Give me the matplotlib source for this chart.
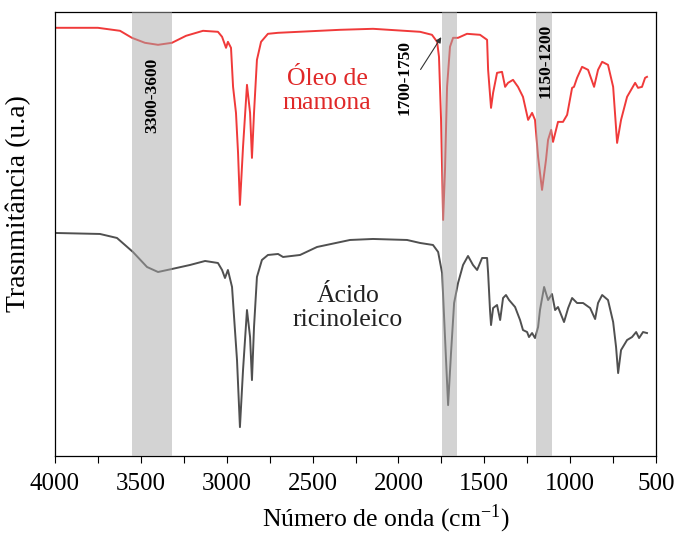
import numpy as np
import matplotlib
matplotlib.use("Agg")
import matplotlib.pyplot as plt
from matplotlib.ticker import MultipleLocator

plt.rcParams['font.family'] = ['Liberation Serif', 'DejaVu Serif']
plt.rcParams['mathtext.fontset'] = 'stix'

# Óleo de mamona (red) - wavenumber (cm-1), transmittance (a.u.)
oleo_wn = [4000, 3750, 3621, 3552, 3476, 3400, 3319, 3237, 3138, 3051, 3027, 3004,
           2993, 2975, 2963, 2946, 2934, 2923, 2905, 2882, 2864, 2853, 2841, 2824,
           2800, 2760, 2701, 2340, 2148, 1874, 1805, 1775, 1764, 1752, 1740, 1729,
           1717, 1700, 1682, 1653, 1601, 1525, 1484, 1478, 1461, 1449, 1426, 1397,
           1379, 1362, 1333, 1304, 1275, 1245, 1222, 1205, 1187, 1164, 1141, 1129,
           1111, 1100, 1071, 1042, 1018, 989, 978, 960, 931, 896, 861, 838, 814,
           780, 750, 727, 704, 669, 622, 605, 582, 564, 553]
oleo_t = [428, 428, 425, 418, 413, 411, 413, 420, 425, 424, 419, 408,
          414, 408, 369, 343, 303, 251, 309, 371, 343, 298, 343, 396,
          414, 422, 423, 426, 427, 424, 421, 414, 399, 336, 236, 286,
          369, 409, 418, 418, 422, 421, 416, 386, 348, 363, 383, 384,
          369, 373, 376, 369, 359, 336, 343, 336, 299, 266, 296, 316,
          326, 314, 334, 334, 341, 368, 369, 378, 389, 386, 369, 386, 394,
          391, 369, 313, 336, 359, 373, 368, 369, 378, 379]

# Ácido ricinoleico (gray)
acido_wn = [4000, 3738, 3639, 3546, 3464, 3400, 3319, 3214, 3126, 3051, 3027, 3010,
            2993, 2969, 2952, 2940, 2923, 2905, 2882, 2864, 2853, 2841, 2824, 2795,
            2760, 2701, 2672, 2573, 2474, 2282, 2148, 1950, 1874, 1799, 1769, 1746,
            1729, 1711, 1694, 1676, 1653, 1624, 1595, 1566, 1542, 1513, 1484, 1478,
            1467, 1461, 1449, 1426, 1408, 1391, 1374, 1356, 1321, 1292, 1275, 1251,
            1240, 1222, 1205, 1187, 1176, 1152, 1129, 1106, 1088, 1071, 1036, 1012,
            989, 960, 925, 884, 855, 838, 814, 780, 750, 733, 721, 704, 669, 640,
            616, 599, 576, 553]
acido_t = [223, 222, 218, 204, 189, 184, 187, 191, 195, 193, 186, 178,
           186, 169, 126, 96, 29, 86, 146, 119, 76, 129, 179, 196,
           201, 202, 199, 201, 209, 216, 217, 216, 213, 211, 204, 183,
           119, 51, 103, 153, 173, 191, 200, 191, 186, 198, 198, 183,
           146, 131, 148, 151, 136, 158, 161, 156, 149, 136, 126, 124,
           119, 123, 118, 129, 146, 169, 156, 162, 146, 149, 134, 148,
           158, 153, 153, 148, 137, 153, 161, 156, 134, 109, 83, 106, 116, 119,
           124, 118, 124, 123]

# highlighted bands
band_lo = [3319, 1657, 1104]
band_hi = [3552, 1748, 1197]
band_txt = ['3300-3600', '1700-1750', '1150-1200']

fig = plt.figure(figsize=(6.87, 5.36), dpi=100)
ax = fig.add_axes([0.080, 0.149, 0.875, 0.829])

ax.plot(oleo_wn, oleo_t, color='#f03a3a', lw=1.4, zorder=2)
ax.plot(acido_wn, acido_t, color='#505050', lw=1.4, zorder=2)

for lo, hi in zip(band_lo, band_hi):
    ax.axvspan(lo, hi, color='#a8a8a8', alpha=0.5, lw=0, zorder=3)

ax.set_xlim(4000, 500)
ax.set_ylim(0, 444)

ax.text(3435, 360, band_txt[0], rotation=90, ha='center', va='center',
        fontsize=12.5, fontweight='bold', zorder=4)
ax.text(1965, 378, band_txt[1], rotation=90, ha='center', va='center',
        fontsize=12.5, fontweight='bold', zorder=4)
ax.text(1146, 395, band_txt[2], rotation=90, ha='center', va='center',
        fontsize=12.5, fontweight='bold', zorder=4)
ax.annotate('', xy=(1742, 421), xytext=(1880, 384),
            arrowprops=dict(arrowstyle='-|>', color='#333333', lw=0.8,
                            mutation_scale=8), zorder=4)

ax.text(2416, 365, 'Óleo de\nmamona', color='#e02828', fontsize=18.5,
        ha='center', va='center', linespacing=1.15)
ax.text(2294, 148, 'Ácido\nricinoleico', color='#222222', fontsize=18.5,
        ha='center', va='center', linespacing=1.15)

ax.xaxis.set_major_locator(MultipleLocator(500))
ax.xaxis.set_minor_locator(MultipleLocator(250))
ax.tick_params(axis='x', which='both', direction='out', length=5, width=0.8,
               labelsize=18, pad=7)
ax.set_yticks([])
for s in ax.spines.values():
    s.set_linewidth(0.9)

ax.set_xlabel('Número de onda (cm$^{\\mathregular{-1}}$)', fontsize=18.5)
ax.set_ylabel('Trasnmitância (u.a)', fontsize=20)
ax.xaxis.set_label_coords(0.551, -0.105)
ax.yaxis.set_label_coords(-0.040, 0.568)

fig.savefig('out.png', dpi=100)
